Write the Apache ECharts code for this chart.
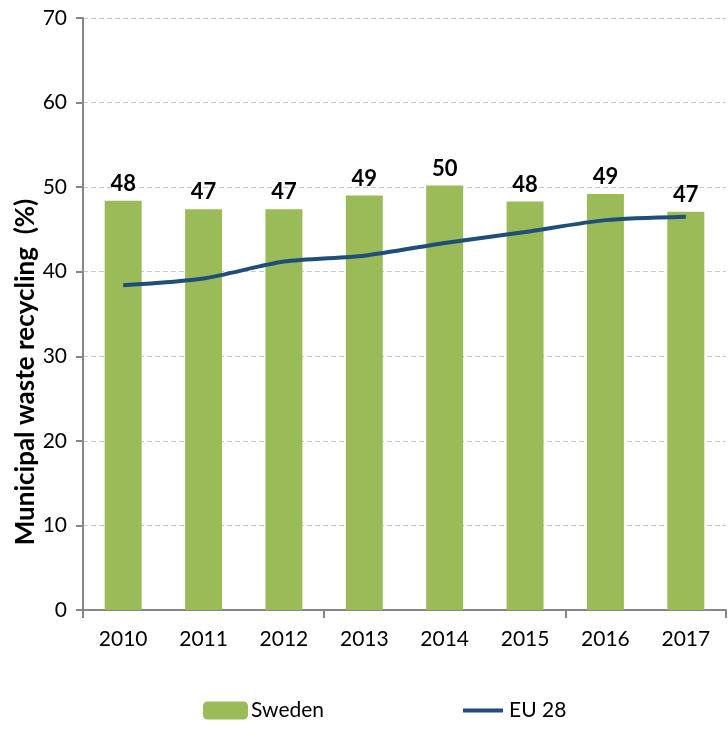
<!DOCTYPE html>
<html>
<head>
<meta charset="utf-8">
<script src="https://cdn.jsdelivr.net/npm/echarts@6/dist/echarts.min.js"></script>
<style>html,body{margin:0;padding:0;background:#fff}#c{width:728px;height:739px}</style>
</head>
<body>
<div id="c"></div>
<script>
const categories = ['2010','2011','2012','2013','2014','2015','2016','2017'];
const swedenValues = [48.4, 47.4, 47.4, 49.0, 50.2, 48.3, 49.2, 47.1];
const eu28Values = [38.4, 39.2, 41.2, 41.9, 43.4, 44.7, 46.1, 46.5];
const yTicks = [0, 10, 20, 30, 40, 50, 60, 70];
const seriesNames = ['Sweden', 'EU 28'];
const yAxisTitle = 'Municipal waste recycling  (%)';

const FONT = 'Lato, "Open Sans", sans-serif';
const chart = echarts.init(document.getElementById('c'));
chart.setOption({
  animation: false,
  textStyle: { fontFamily: FONT },
  grid: { left: 83, right: 2, top: 18, bottom: 129, containLabel: false },
  xAxis: {
    type: 'category',
    data: categories,
    axisLine: { lineStyle: { color: '#868686', width: 2 } },
    axisTick: { show: true, interval: 2, length: 8, lineStyle: { color: '#868686', width: 2 } },
    axisLabel: { color: '#000', fontSize: 21, margin: 19, fontFamily: FONT }
  },
  yAxis: {
    type: 'value',
    min: yTicks[0],
    max: yTicks[yTicks.length - 1],
    interval: 10,
    axisLine: { show: true, lineStyle: { color: '#868686', width: 2 } },
    axisTick: { show: true, length: 7, lineStyle: { color: '#868686', width: 2 } },
    axisLabel: { color: '#000', fontSize: 21, margin: 16, fontFamily: FONT },
    splitLine: { show: true, lineStyle: { color: '#c8c8c8', type: [5, 3], width: 1 } }
  },
  legend: [
    {
      data: [seriesNames[0]],
      left: 198, top: 695,
      itemWidth: 45, itemHeight: 18,
      textStyle: { color: '#000', fontSize: 21, fontFamily: FONT, padding: [0, 0, 0, -2] }
    },
    {
      data: [{ name: seriesNames[1], icon: 'path://M0,0 L40,0 L40,4 L0,4 Z' }],
      left: 458, top: 695,
      itemWidth: 42, itemHeight: 4,
      textStyle: { color: '#000', fontSize: 21, fontFamily: FONT }
    }
  ],
  graphic: [{
    type: 'text',
    rotation: Math.PI / 2,
    x: 26, y: 372,
    style: {
      text: yAxisTitle,
      fill: '#000',
      font: 'bold 26px ' + FONT,
      textAlign: 'center',
      textVerticalAlign: 'middle'
    }
  }],
  series: [
    {
      name: seriesNames[0],
      type: 'bar',
      data: swedenValues,
      barCategoryGap: '54%',
      itemStyle: { color: '#9bbb59' },
      label: {
        show: true, position: 'top', distance: 6,
        color: '#000', fontSize: 22, fontWeight: 'bold', fontFamily: FONT,
        formatter: p => Math.round(p.value)
      }
    },
    {
      name: seriesNames[1],
      type: 'line',
      data: eu28Values,
      smooth: 0.25,
      symbol: 'none',
      lineStyle: { color: '#1f4e79', width: 4 },
      itemStyle: { color: '#1f4e79' }
    }
  ]
});
</script>
</body>
</html>
